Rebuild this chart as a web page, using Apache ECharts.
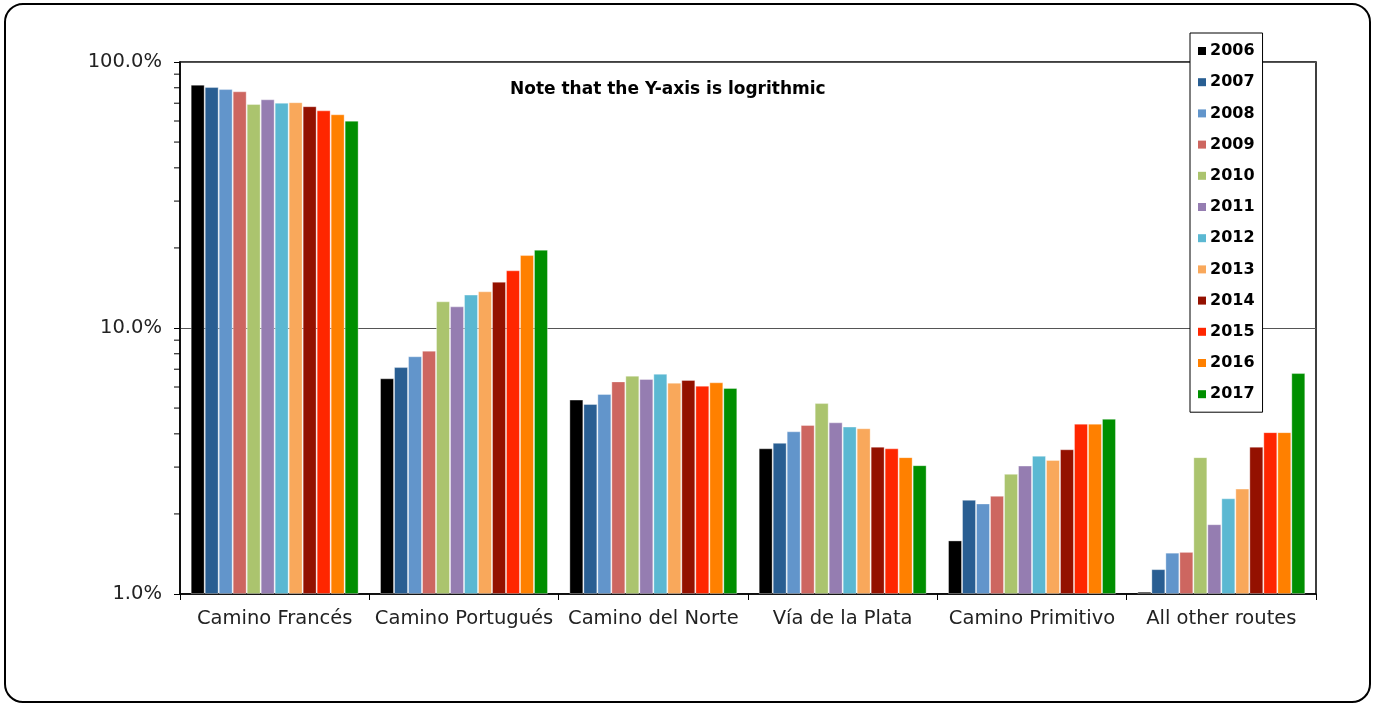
<!DOCTYPE html>
<html>
<head>
<meta charset="utf-8">
<script src="https://cdn.jsdelivr.net/npm/echarts@6/dist/echarts.min.js"></script>
<style>
html,body{margin:0;padding:0;background:#fff;}
#chart{width:1378px;height:705px;}
</style>
</head>
<body>
<div id="chart"></div>
<script>
const categories = ['Camino Francés', 'Camino Portugués', 'Camino del Norte', 'Vía de la Plata', 'Camino Primitivo', 'All other routes'];
const years = ['2006','2007','2008','2009','2010','2011','2012','2013','2014','2015','2016','2017'];
// percent share per route, one array per year
const y2006 = [82.2, 6.47, 5.38, 3.53, 1.59, 1.02];
const y2007 = [80.5, 7.13, 5.18, 3.70, 2.26, 1.24];
const y2008 = [79.1, 7.83, 5.65, 4.09, 2.19, 1.43];
const y2009 = [77.6, 8.22, 6.30, 4.32, 2.34, 1.44];
const y2010 = [69.5, 12.6, 6.62, 5.22, 2.83, 3.27];
const y2011 = [72.4, 12.06, 6.43, 4.42, 3.04, 1.83];
const y2012 = [70.3, 13.35, 6.73, 4.26, 3.31, 2.29];
const y2013 = [70.6, 13.74, 6.23, 4.20, 3.19, 2.49];
const y2014 = [68.2, 14.93, 6.38, 3.58, 3.50, 3.58];
const y2015 = [65.8, 16.48, 6.07, 3.53, 4.37, 4.06];
const y2016 = [63.6, 18.8, 6.25, 3.27, 4.37, 4.06];
const y2017 = [60.2, 19.7, 5.95, 3.05, 4.56, 6.77];
const seriesValues = [y2006,y2007,y2008,y2009,y2010,y2011,y2012,y2013,y2014,y2015,y2016,y2017];
const colors = ['#000000','#295E92','#6295CB','#CD6660','#ABC46E','#957DB1','#5BB8D2','#F9A85B','#941100','#FF2600','#FF8000','#008F00'];
const minorTickValues = [2,3,4,5,6,7,8,9,20,30,40,50,60,70,80,90];
const noteText = 'Note that the Y-axis is logrithmic';

const chart = echarts.init(document.getElementById('chart'));
const FONT = 'DejaVu Sans';

const series = seriesValues.map((vals, i) => ({
  name: years[i],
  type: 'bar',
  data: vals,
  barGap: '0%',
  barCategoryGap: '11.3%',
  itemStyle: { color: colors[i], borderColor: 'rgba(255,255,255,0.35)', borderWidth: 1 }
}));

series.push({
  type: 'custom',
  silent: true,
  z: 5,
  clip: false,
  data: minorTickValues.map(v => [0, v]),
  encode: { x: 0, y: 1 },
  renderItem: function (params, api) {
    const y = api.coord([0, api.value(1)])[1];
    const x = params.coordSys.x;
    return {
      type: 'line',
      shape: { x1: x - 6, y1: y, x2: x, y2: y },
      style: { stroke: '#000', lineWidth: 1 }
    };
  }
});

chart.setOption({
  animation: false,
  color: colors,
  textStyle: { fontFamily: FONT },
  grid: { left: 180, right: 62, top: 62, bottom: 111, show: true, borderColor: '#000', borderWidth: 1.5, backgroundColor: 'transparent' },
  legend: {
    data: years,
    orient: 'vertical',
    left: 1190,
    top: 33,
    itemWidth: 8,
    itemHeight: 8,
    itemGap: 15.2,
    padding: [10, 8, 10, 8],
    icon: 'rect',
    backgroundColor: '#fff',
    borderColor: '#000',
    borderWidth: 1,
    textStyle: { fontFamily: FONT, fontWeight: 'bold', fontSize: 16, color: '#000', lineHeight: 16, padding: [0, 0, 0, -1] },
    itemStyle: { borderWidth: 0 }
  },
  xAxis: {
    type: 'category',
    data: categories,
    axisLine: { lineStyle: { color: '#000', width: 1.5 } },
    axisTick: { show: true, length: 6, lineStyle: { color: '#000' } },
    axisLabel: { fontFamily: FONT, fontSize: 19.5, color: '#222', margin: 15, interval: 0 }
  },
  yAxis: {
    type: 'log',
    logBase: 10,
    min: 1,
    max: 100,
    axisLine: { show: true, lineStyle: { color: '#000', width: 1.5 } },
    axisTick: { show: true, length: 6, lineStyle: { color: '#000' } },
    axisLabel: { fontFamily: FONT, fontSize: 19.5, color: '#222', margin: 18, formatter: v => v.toFixed(1) + '%' },
    splitLine: { show: true, lineStyle: { color: '#555', width: 1 } }
  },
  graphic: [
    {
      type: 'rect',
      shape: { x: 5, y: 4, width: 1365, height: 698, r: 18 },
      style: { fill: 'none', stroke: '#000', lineWidth: 2 },
      silent: true
    },
    {
      type: 'text',
      x: 510,
      y: 90,
      style: { text: noteText, font: 'bold 17px "DejaVu Sans"', fill: '#000', textVerticalAlign: 'middle', verticalAlign: 'middle' },
      silent: true
    }
  ],
  series: series
});
</script>
</body>
</html>
